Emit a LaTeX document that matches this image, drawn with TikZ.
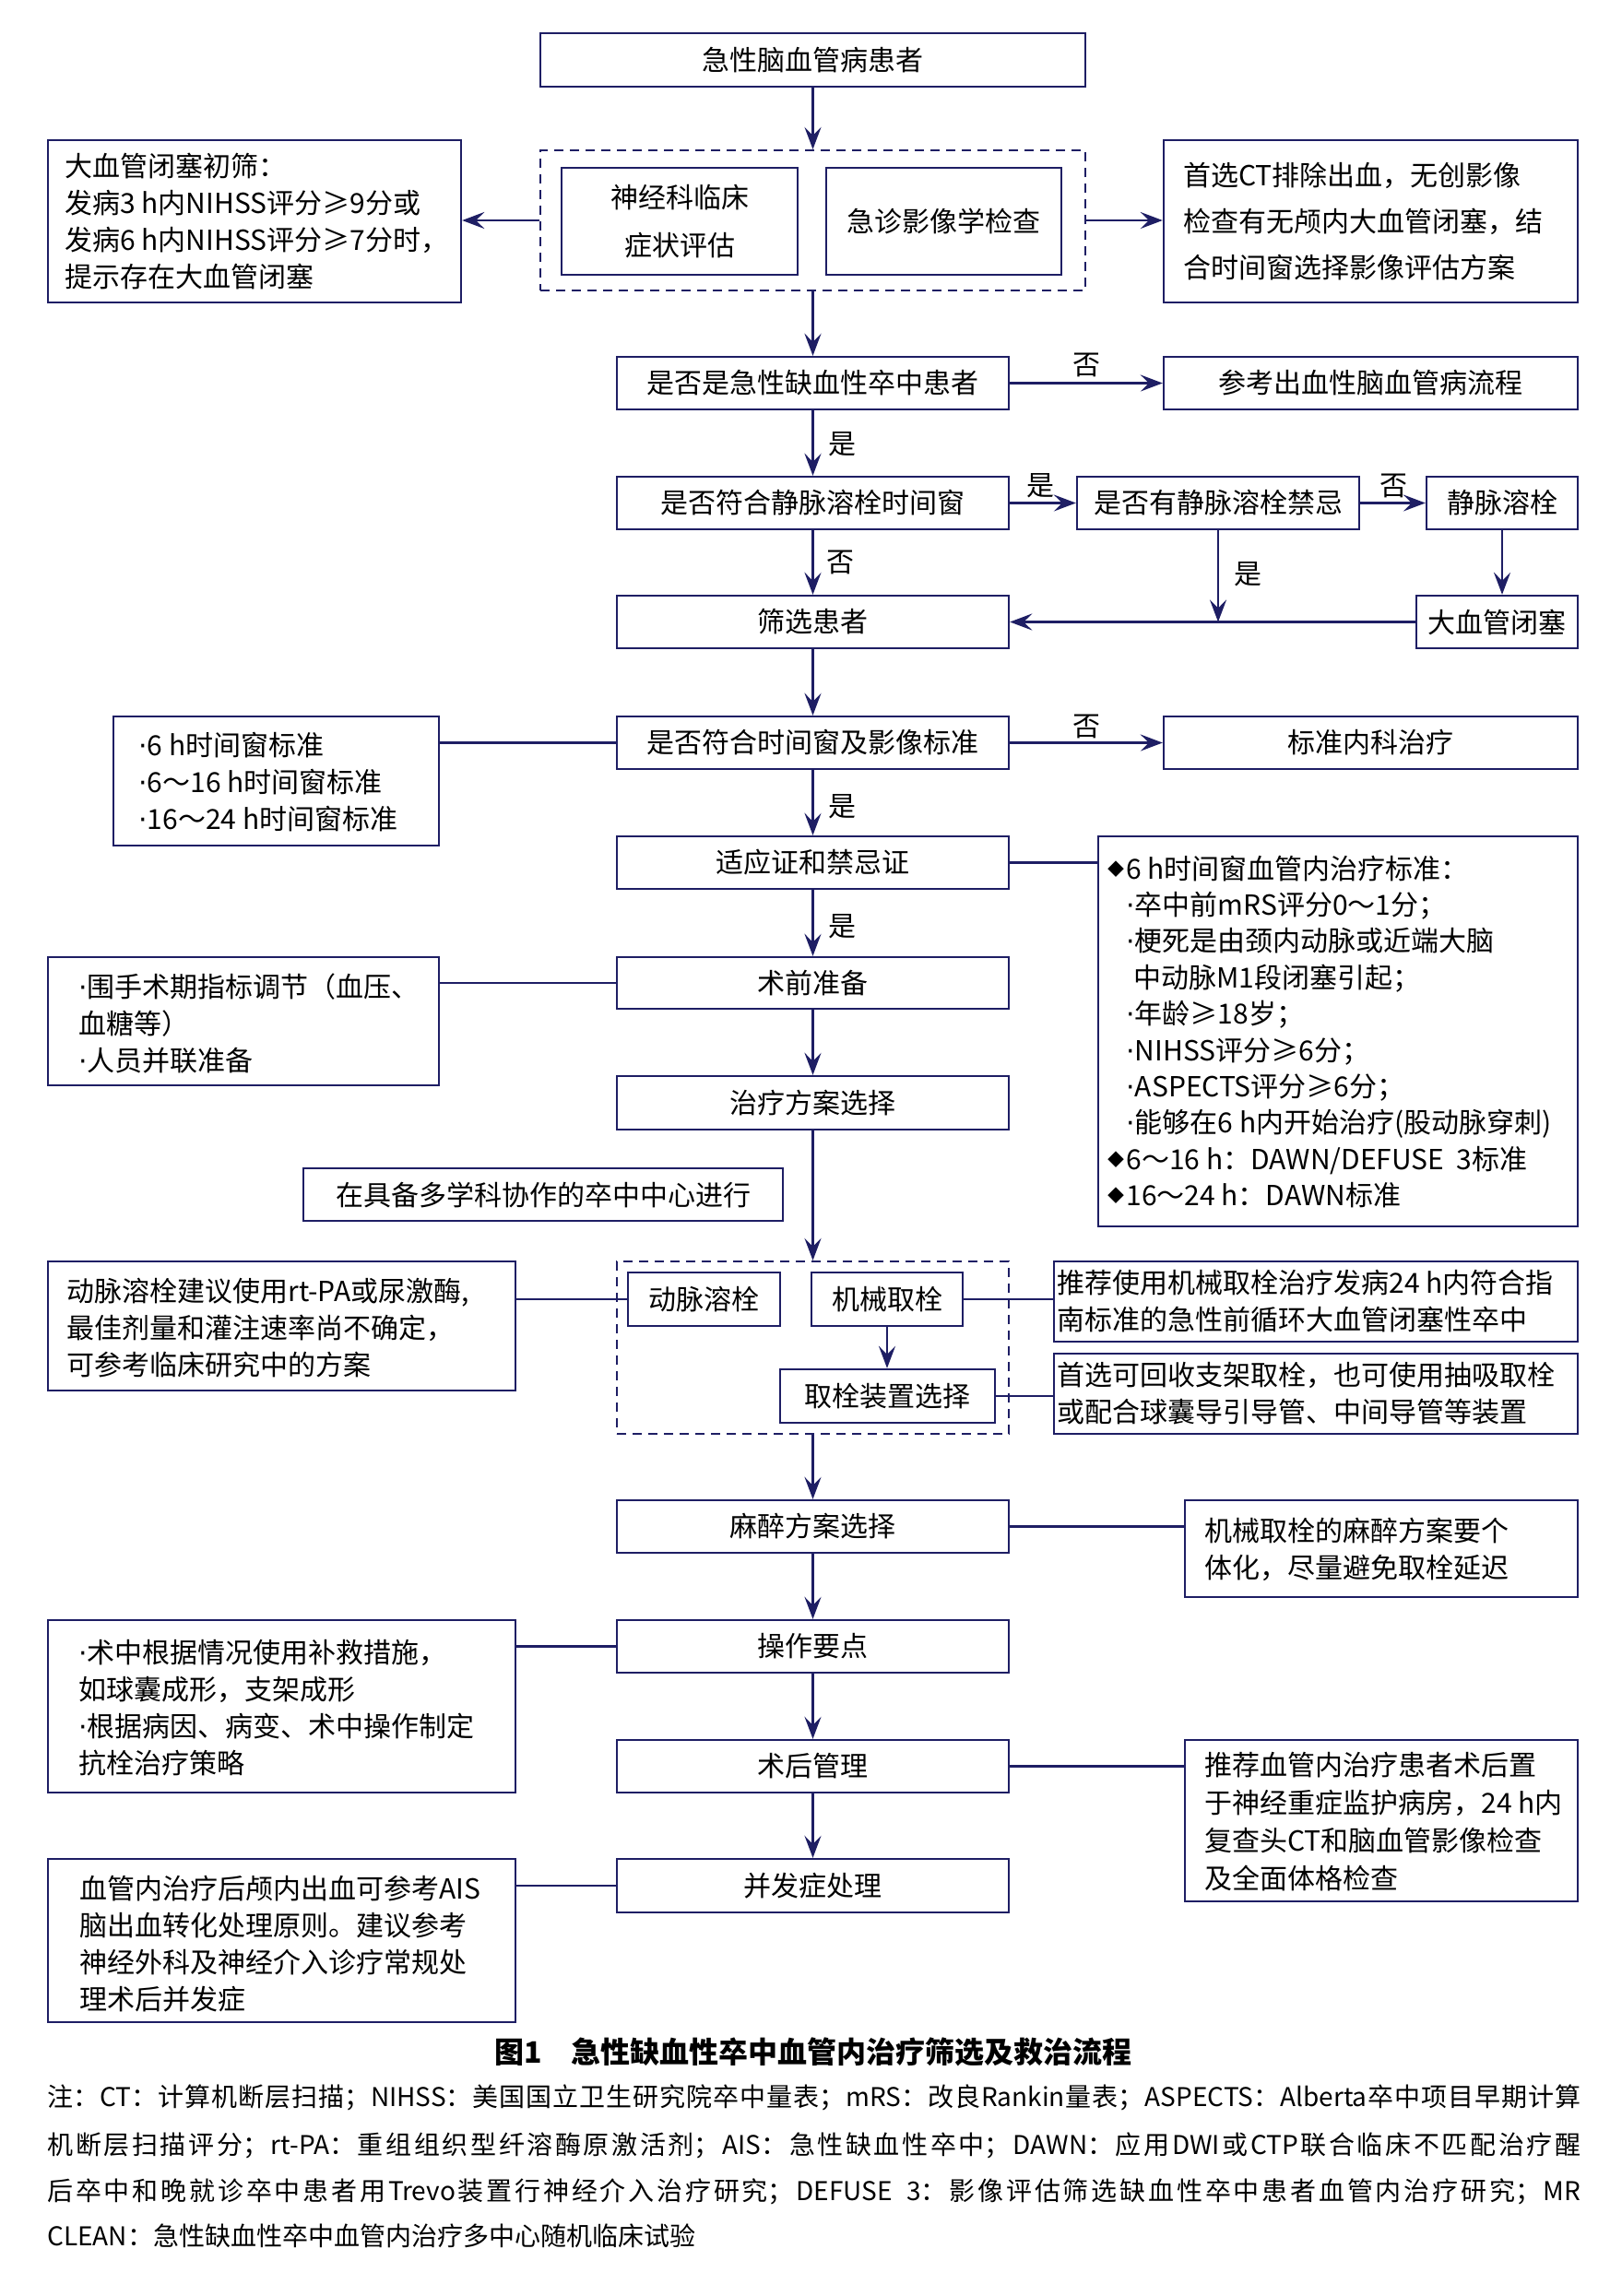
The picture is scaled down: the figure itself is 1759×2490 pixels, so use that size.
\documentclass[tikz,border=0pt]{standalone}
\usepackage{fontspec}
\setmainfont{Noto Sans CJK SC}
\newfontfamily\dejavu{DejaVu Sans}
\usetikzlibrary{arrows.meta,fit}
\definecolor{navy}{RGB}{30,30,100}
\newcommand\fs{\fontsize{15pt}{20pt}\selectfont}
\newcommand\dt{{\dejavu ·}}
\newcommand\dmd{\raisebox{2pt}{\fontsize{9pt}{9pt}\selectfont ◆}\hspace{1pt}}
\newcommand\notefont{\fontsize{14pt}{20pt}\selectfont}
\newcommand\jline[1]{\parbox{831.5pt}{\notefont\XeTeXlinebreaklocale "zh"\XeTeXlinebreakskip=0pt plus 3pt minus 0.4pt\relax\parfillskip=0pt\relax\tolerance=9000\noindent#1}}
\tikzset{
  box/.style={draw=navy, line width=1.2pt, inner sep=0pt, rectangle},
  dbox/.style={draw=navy, line width=1.1pt, dash pattern=on 5pt off 3.5pt, inner sep=0pt, rectangle},
  arr/.style={draw=navy, line width=1.3pt, -{Stealth[length=12pt,width=9pt,inset=4.5pt]}},
  ln/.style={draw=navy, line width=1.3pt},
  lab/.style={font=\fs, inner sep=0pt},
  ctr/.style={font=\fs, inner sep=0pt, align=center},
  txt/.style={anchor=west, align=left, inner sep=0pt, font=\fs},
}
% box from corner to corner, with centred text
\newcommand\bx[4]{\node[box, fit={(#2) (#3)}] (#1) {};
  \node[ctr] (#1-t) at (#1.center) {#4};}
\newcommand\eb[3]{\node[box, fit={(#2) (#3)}] (#1) {};}
\begin{document}
\begin{tikzpicture}[x=0.5pt,y=-0.5pt]
\fill[white] (0,0) rectangle (1759,2490);
\useasboundingbox (0,0) rectangle (1759,2490);

% top
\bx{a}{586,36}{1177,94}{急性脑血管病患者}
\node[dbox, fit={(586,163) (1177,315)}] (db1) {};
\eb{b1}{609,182}{865,298}
\node[ctr, font=\fontsize{15pt}{26pt}\selectfont] (b1-t) at (b1.center) {神经科临床\\症状评估};
\bx{b2}{896,182}{1151,298}{急诊影像学检查}
\eb{l1}{52,152}{500,328}
\node[txt] (l1t) at (70,240) {大血管闭塞初筛：\\发病3 h内NIHSS评分≥9分或\\发病6 h内NIHSS评分≥7分时，\\提示存在大血管闭塞};
\eb{r1}{1262,152}{1711,328}
\node[txt, font=\fontsize{15pt}{25pt}\selectfont] (r1t) at (1283,240) {首选CT排除出血，无创影像\\检查有无颅内大血管闭塞，结\\合时间窗选择影像评估方案};
\draw[arr] (a) -- (db1);
\draw[arr] (db1.west) -- (db1.west -| l1.east);
\draw[arr] (db1.east) -- (db1.east -| r1.west);

% decision rows
\bx{c1}{669,387}{1094,444}{是否是急性缺血性卒中患者}
\bx{c1r}{1262,387}{1711,444}{参考出血性脑血管病流程}
\bx{c2}{669,517}{1094,574}{是否符合静脉溶栓时间窗}
\bx{c2m}{1168,517}{1474,574}{是否有静脉溶栓禁忌}
\bx{c2r}{1547,517}{1711,574}{静脉溶栓}
\bx{c3}{669,646}{1094,703}{筛选患者}
\bx{c3r}{1536,646}{1711,703}{大血管闭塞}
\draw[arr] (db1.south) -- (c1.north);
\draw[arr] (c1) -- (c1r);
\node[lab] (n1) at (1178,396) {否};
\draw[arr] (c1) -- (c2);
\node[lab] (y1) at (913,482) {是};
\draw[arr] (c2) -- (c2m);
\node[lab] (y2) at (1128,527) {是};
\draw[arr] (c2m) -- (c2r);
\node[lab] (n2) at (1511,527) {否};
\draw[arr] (c2) -- (c3);
\node[lab] (n3) at (911,610) {否};
\coordinate (j1) at (c2m.south |- c3.east);
\draw[arr] (c2m.south) -- (j1);
\node[lab] (y3) at (1353,623) {是};
\draw[arr] (c2r.south) -- (c2r.south |- c3r.north);
\draw[arr] (c3r) -- (c3);

% time window
\bx{c4}{669,777}{1094,834}{是否符合时间窗及影像标准}
\eb{c4l}{123,777}{476,917}
\node[txt] (c4lt) at (150,848) {\dt 6 h时间窗标准\\\dt 6～16 h时间窗标准\\\dt 16～24 h时间窗标准};
\bx{c4r}{1262,777}{1711,834}{标准内科治疗}
\draw[arr] (c3) -- (c4);
\draw[ln] (c4.west) -- (c4.west -| c4l.east);
\draw[arr] (c4) -- (c4r);
\node[lab] (n4) at (1178,788) {否};

\bx{c5}{669,907}{1094,964}{适应证和禁忌证}
\eb{c5r}{1191,907}{1711,1330}
\node[txt, font=\fontsize{15pt}{19.7pt}\selectfont] (c5rt) at (1201,1119) {\dmd 6 h时间窗血管内治疗标准：\\
\hspace*{10pt}\dt 卒中前mRS评分0～1分；\\
\hspace*{10pt}\dt 梗死是由颈内动脉或近端大脑\\
\hspace*{14pt}中动脉M1段闭塞引起；\\
\hspace*{10pt}\dt 年龄≥18岁；\\
\hspace*{10pt}\dt NIHSS评分≥6分；\\
\hspace*{10pt}\dt ASPECTS评分≥6分；\\
\hspace*{10pt}\dt 能够在6 h内开始治疗(股动脉穿刺)\\
\dmd 6～16 h：DAWN/DEFUSE\ \ 3标准\\
\dmd 16～24 h：DAWN标准};
\draw[arr] (c4) -- (c5);
\node[lab] (y4) at (913,875) {是};
\draw[ln] (c5.east) -- (c5.east -| c5r.west);

\bx{c6}{669,1038}{1094,1094}{术前准备}
\eb{c6l}{52,1038}{476,1177}
\node[txt] (c6lt) at (85,1110) {\dt 围手术期指标调节（血压、\\血糖等）\\\dt 人员并联准备};
\draw[arr] (c5) -- (c6);
\node[lab] (y5) at (913,1005) {是};
\draw[ln] (c6.west) -- (c6.west -| c6l.east);

\bx{c7}{669,1167}{1094,1225}{治疗方案选择}
\bx{c7l}{329,1267}{849,1324}{在具备多学科协作的卒中中心进行}
\draw[arr] (c6) -- (c7);

% treatment dashed group
\node[dbox, fit={(669,1368) (1094,1555)}] (db2) {};
\bx{d1}{681,1380}{846,1438}{动脉溶栓}
\bx{d2}{880,1380}{1044,1438}{机械取栓}
\bx{d3}{846,1485}{1079,1543}{取栓装置选择}
\draw[arr] (c7.south) -- (db2.north);
\draw[arr] (d2.south) -- (d2.south |- d3.north);
\eb{d1l}{52,1368}{559,1508}
\node[txt] (d1lt) at (72,1440) {动脉溶栓建议使用rt-PA或尿激酶,\\最佳剂量和灌注速率尚不确定，\\可参考临床研究中的方案};
\draw[ln] (d1.west) -- (d1.west -| d1l.east);
\eb{d2r}{1143,1368}{1711,1455}
\node[txt] (d2rt) at (1146,1411.5) {推荐使用机械取栓治疗发病24 h内符合指\\南标准的急性前循环大血管闭塞性卒中};
\draw[ln] (d2.east) -- (d2.east -| d2r.west);
\eb{d3r}{1143,1468}{1711,1555}
\node[txt] (d3rt) at (1146,1511.5) {首选可回收支架取栓，也可使用抽吸取栓\\或配合球囊导引导管、中间导管等装置};
\draw[ln] (d3.east) -- (d3.east -| d3r.west);

% lower chain
\bx{e1}{669,1627}{1094,1684}{麻醉方案选择}
\eb{e1r}{1285,1627}{1711,1732}
\node[txt] (e1rt) at (1306,1680) {机械取栓的麻醉方案要个\\体化，尽量避免取栓延迟};
\draw[arr] (db2.south) -- (e1.north);
\draw[ln] (e1.east) -- (e1.east -| e1r.west);

\bx{e2}{669,1757}{1094,1814}{操作要点}
\eb{e2l}{52,1757}{559,1944}
\node[txt] (e2lt) at (85,1852) {\dt 术中根据情况使用补救措施，\\如球囊成形，支架成形\\\dt 根据病因、病变、术中操作制定\\抗栓治疗策略};
\draw[arr] (e1) -- (e2);
\draw[ln] (e2.west) -- (e2.west -| e2l.east);

\bx{e3}{669,1887}{1094,1944}{术后管理}
\eb{e3r}{1285,1887}{1711,2062}
\node[txt, font=\fontsize{15pt}{20.5pt}\selectfont] (e3rt) at (1306,1976) {推荐血管内治疗患者术后置\\于神经重症监护病房，24 h内\\复查头CT和脑血管影像检查\\及全面体格检查};
\draw[arr] (e2) -- (e3);
\draw[ln] (e3.east) -- (e3.east -| e3r.west);

\bx{e4}{669,2016}{1094,2074}{并发症处理}
\eb{e4l}{52,2016}{559,2193}
\node[txt] (e4lt) at (86,2108) {血管内治疗后颅内出血可参考AIS\\脑出血转化处理原则。建议参考\\神经外科及神经介入诊疗常规处\\理术后并发症};
\draw[arr] (e3) -- (e4);
\draw[ln] (e4.west) -- (e4.west -| e4l.east);

% caption and notes
\node[inner sep=0pt, font=\fontsize{16pt}{20pt}\selectfont\bfseries] (cap) at (882,2225) {图1\hspace{1em}急性缺血性卒中血管内治疗筛选及救治流程};
\node[anchor=west, inner sep=0pt] (nt1) at (51,2275) {\jline{注：CT：计算机断层扫描；NIHSS：美国国立卫生研究院卒中量表；mRS：改良Rankin量表；ASPECTS：Alberta卒中项目早期计算}};
\node[anchor=west, inner sep=0pt] (nt2) at (51,2327) {\jline{机断层扫描评分；rt-PA：重组组织型纤溶酶原激活剂；AIS：急性缺血性卒中；DAWN：应用DWI或CTP联合临床不匹配治疗醒}};
\node[anchor=west, inner sep=0pt] (nt3) at (51,2377) {\jline{后卒中和晚就诊卒中患者用Trevo装置行神经介入治疗研究；DEFUSE\ \ 3：影像评估筛选缺血性卒中患者血管内治疗研究；MR}};
\node[anchor=west, inner sep=0pt, font=\notefont] (nt4) at (51,2425) {CLEAN：急性缺血性卒中血管内治疗多中心随机临床试验};
\end{tikzpicture}
\end{document}
